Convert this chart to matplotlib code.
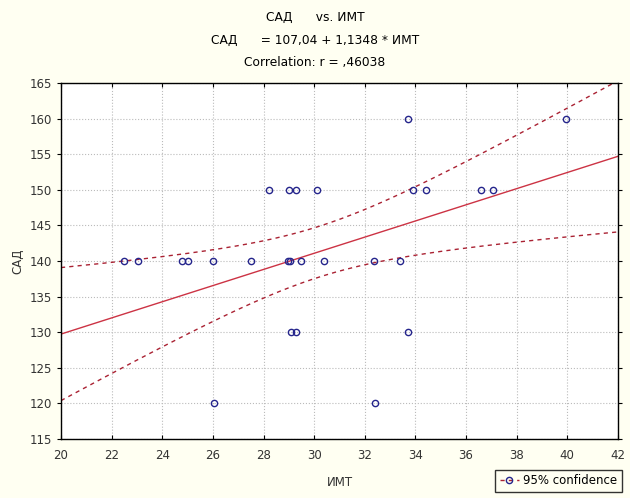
import numpy as np
import matplotlib.pyplot as plt
from matplotlib.lines import Line2D

plt.rcParams['font.family'] = ['DejaVu Sans']

# ИМТ (x) and САД (y)
imt = [22.5, 23.05, 24.8, 25.0, 26.0, 27.5, 28.95, 29.05, 29.5, 30.4, 32.35, 33.4,
       29.1, 29.3, 33.7,
       26.05, 32.4,
       28.2, 29.0, 29.3, 30.1, 33.9, 34.4, 36.6, 37.05,
       33.7, 39.95]
sad = [140, 140, 140, 140, 140, 140, 140, 140, 140, 140, 140, 140,
       130, 130, 130,
       120, 120,
       150, 150, 150, 150, 150, 150, 150, 150,
       160, 160]

# regression from the chart title
intercept = 107.04
slope = 1.1348

x = np.array(imt)
y = np.array(sad)
n = len(x)
resid = y - (intercept + slope * x)
s = np.sqrt(np.sum(resid ** 2) / (n - 2))
sxx = np.sum((x - x.mean()) ** 2)
t = 1.98

xs = np.linspace(20, 42, 200)
fit = intercept + slope * xs
se = s * np.sqrt(1.0 / n + (xs - x.mean()) ** 2 / sxx)

bg = '#fffff2'
fig = plt.figure(figsize=(6.3, 4.98), dpi=100, facecolor=bg)
ax = fig.add_axes([0.0968, 0.1185, 0.884, 0.7148])
ax.set_facecolor('white')

ax.plot(xs, fit, color='#cc3344', lw=1.0)
ax.plot(xs, fit + t * se, color='#aa2233', lw=1.0, ls=(0, (3, 3)))
ax.plot(xs, fit - t * se, color='#aa2233', lw=1.0, ls=(0, (3, 3)))
ax.plot(x, y, 'o', mfc='none', mec='#25258c', ms=4.5, mew=1.0)

ax.set_xlim(20, 42)
ax.set_ylim(115, 165)
ax.set_xticks(np.arange(20, 43, 2))
ax.set_yticks(np.arange(115, 166, 5))
ax.grid(True, color='#bbbbbb', ls=':', lw=0.8)
ax.tick_params(labelsize=8.5, labelcolor='#333333', length=3)
ax.tick_params(axis='x', direction='in', top=True, pad=7)
ax.tick_params(axis='y', direction='out')
ax.tick_params(axis='y', which='both', right=True)
for sp in ax.spines.values():
    sp.set_linewidth(1.0)

ax.set_xlabel('ИМТ', fontsize=8.5, color='#333333', labelpad=10)
ax.set_ylabel('САД', fontsize=8.5, color='#333333', labelpad=4)

fig.text(0.5, 0.965, 'САД      vs. ИМТ', ha='center', va='center', fontsize=8.8)
fig.text(0.5, 0.918, 'САД      = 107,04 + 1,1348 * ИМТ', ha='center', va='center', fontsize=8.8)
fig.text(0.5, 0.874, 'Correlation: r = ,46038', ha='center', va='center', fontsize=8.8)

handle = Line2D([], [], color='#aa2233', ls=(0, (3, 3)), lw=1.0,
                marker='o', mfc='none', mec='#25258c', ms=4.5)
leg = fig.legend([handle], ['95% confidence'], loc='lower right',
                 bbox_to_anchor=(0.997, 0.0), fontsize=8.5, frameon=True,
                 fancybox=False, handlelength=1.6, borderpad=0.4,
                 handletextpad=0.4)
leg.get_frame().set_edgecolor('black')
leg.get_frame().set_facecolor(bg)

fig.savefig('out.png', dpi=100, facecolor=bg)
